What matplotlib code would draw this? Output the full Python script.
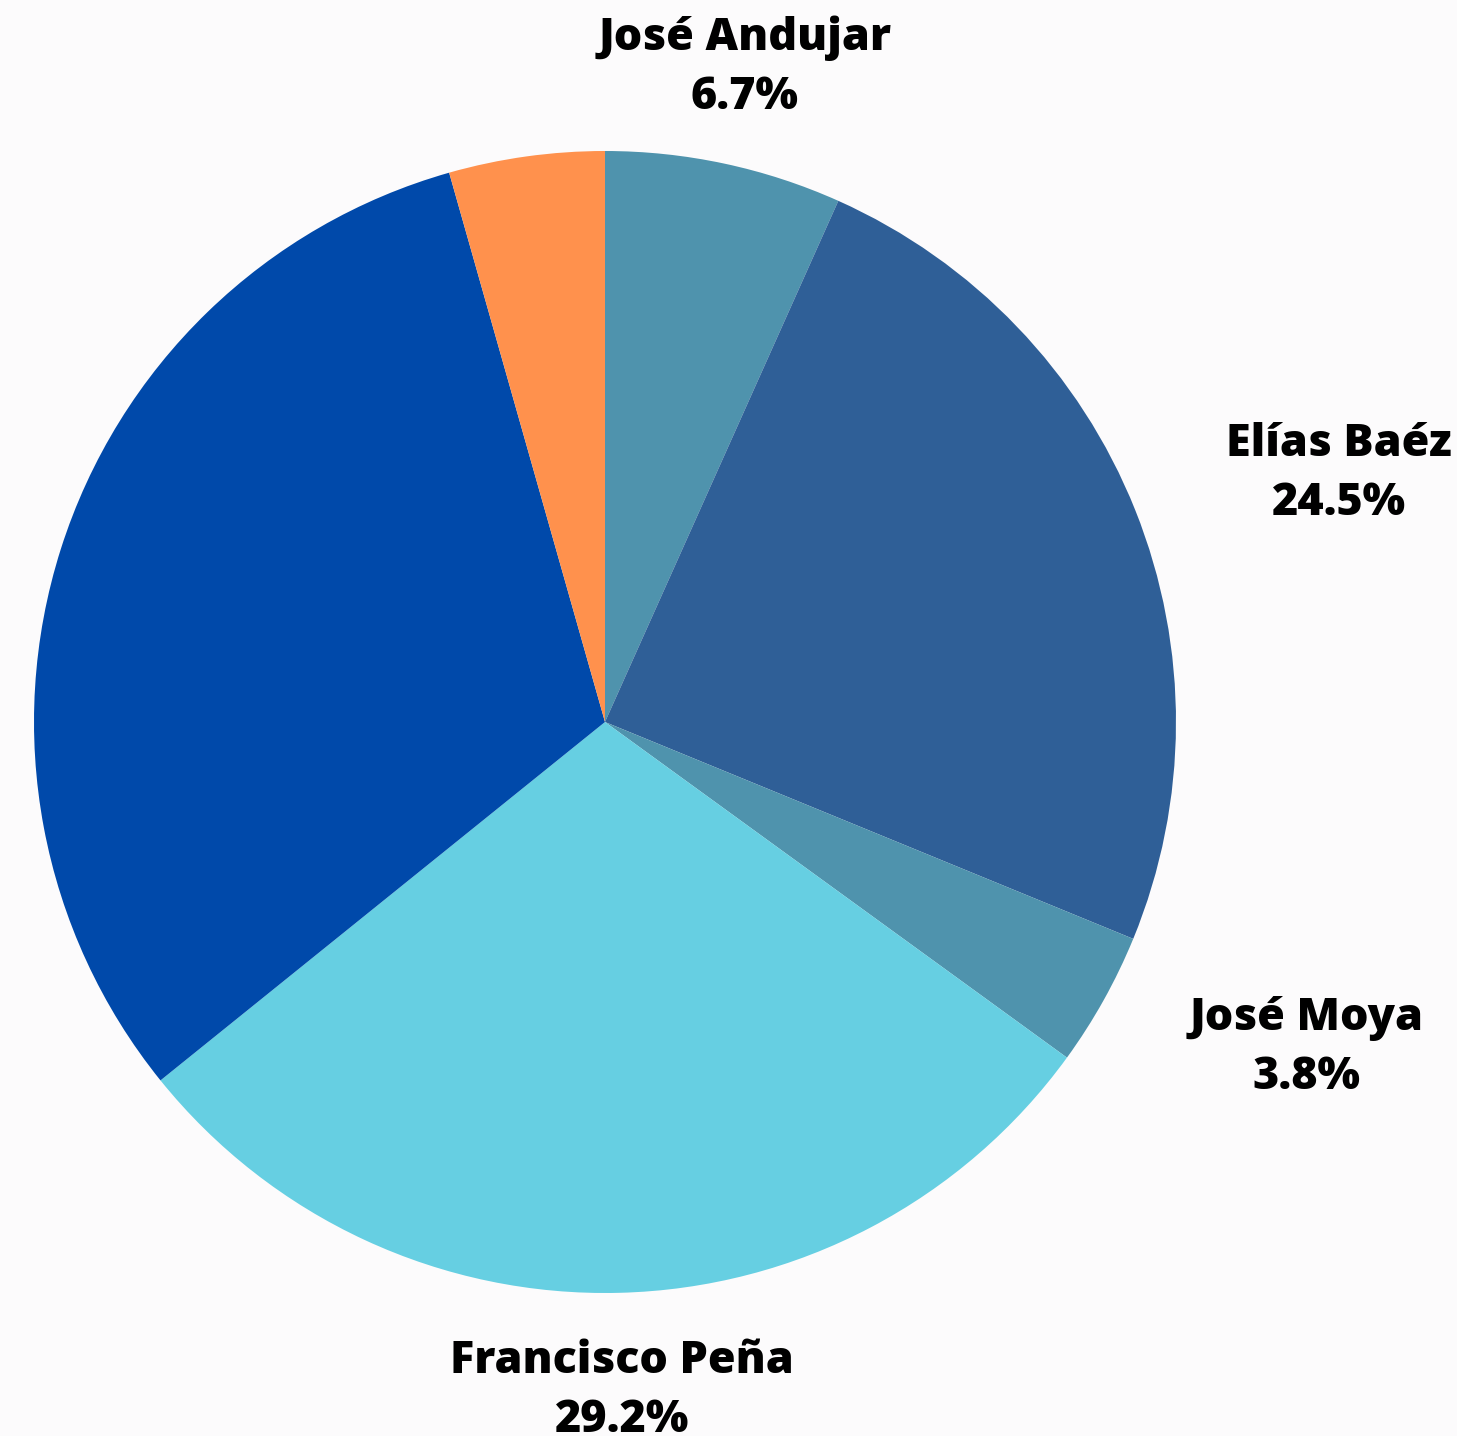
import matplotlib
matplotlib.use("Agg")
import matplotlib.pyplot as plt

names = ["José Andujar", "Elías Baéz", "José Moya", "Francisco Peña", "", ""]
shares = [6.7, 24.5, 3.8, 29.2, 31.4, 4.4]
shown = [True, True, True, True, False, False]
colors = ["#4F93AD", "#2F5F97", "#4F93AD", "#66CFE2", "#0049AA", "#FF914D"]
aligns = ["center", "left", "left", "center", "center", "center"]

W, H = 1457, 1436
fig = plt.figure(figsize=(W / 100, H / 100), dpi=100)
bg = "#FCFBFC"
fig.patch.set_facecolor(bg)

cx, cy, R = 605, 1436 - 722, 571
ax = fig.add_axes([(cx - R) / W, (cy - R) / H, 2 * R / W, 2 * R / H])
ax.set_facecolor(bg)

labels = [f"{n}\n{s:.1f}%" if sh else "" for n, s, sh in zip(names, shares, shown)]
wedges, texts = ax.pie(shares, labels=labels, colors=colors, startangle=90,
                       counterclock=False, labeldistance=1.172, radius=1,
                       wedgeprops=dict(linewidth=0),
                       textprops=dict(fontfamily="Open Sans", fontweight=800,
                                      fontsize=32.3, color="black",
                                      multialignment="center", linespacing=1.42))
for t, a in zip(texts, aligns):
    t.set_ha(a)
    t.set_va("center")
    t.set_clip_on(False)

ax.set_xlim(-1, 1)
ax.set_ylim(-1, 1)
ax.set_aspect("equal")
ax.axis("off")

fig.savefig("out.png", dpi=100, facecolor=bg)
